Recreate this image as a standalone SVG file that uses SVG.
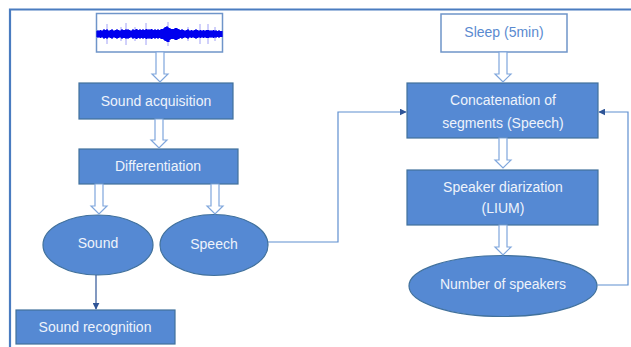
<svg xmlns="http://www.w3.org/2000/svg" width="631" height="347" viewBox="0 0 631 347">
<defs>
<style>
.box{fill:#5589d3;stroke:#41719c;stroke-width:1.2}
.wbox{fill:#ffffff;stroke:#6f95c9;stroke-width:1.5}
.t{font-family:"Liberation Sans",Arial,sans-serif;font-size:14px;fill:#eef3fb;text-anchor:middle}
.tb{font-family:"Liberation Sans",Arial,sans-serif;font-size:14px;fill:#5a8ad0;text-anchor:middle}
.hol{fill:#ffffff;stroke:#7fa6dc;stroke-width:1.2}
.con{fill:none;stroke:#5f8fd0;stroke-width:1.2}
</style>
<marker id="ah" viewBox="0 0 10 10" refX="9" refY="5" markerWidth="7" markerHeight="7" orient="auto" markerUnits="userSpaceOnUse">
<path d="M0,0 L10,5 L0,10 z" fill="#2f5597"/>
</marker>
</defs>
<rect width="631" height="347" fill="#ffffff"/>
<path d="M10,347 V9.5 H631" fill="none" stroke="#4a7cc0" stroke-width="2.2"/>

<g id="waveform">
<rect class="wbox" x="96.5" y="13.5" width="126" height="38.5"/>
<path fill="none" stroke="#8a8cf5" stroke-width="0.8" d="M107 24v20M126 23v22M146 23v22M168 22v24M200 24v20M208 24v20M121 27v14M188 27v14M215 27v14M135 27v14"/>
<path fill="none" stroke="#0000ee" stroke-width="1.2" d="M97 31v6M98 30v8M99 31v6M100 30v8M101 30v8M102 31v6M103 30v8M104 29v10M105 30v8M106 30v8M107 29v10M108 30v8M109 31v6M110 30v8M111 30v8M112 29v10M113 30v8M114 31v6M115 30v8M116 30v8M117 29v10M118 30v8M119 30v8M120 31v6M121 30v8M122 29v10M123 30v8M124 30v8M125 30v8M126 29v10M127 30v8M128 29v10M129 30v8M130 30v8M131 31v6M132 30v8M133 29v10M134 30v8M135 30v8M136 29v10M137 29v10M138 30v8M139 30v8M140 29v10M141 30v8M142 30v8M143 29v10M144 30v8M145 30v8M146 29v10M147 29v10M148 30v8M149 29v10M150 30v8M151 29v10M152 29v10M153 30v8M154 30v8M155 29v10M156 30v8M157 30v8M158 29v10M159 30v8M160 30v8M161 29v10M162 29v10M163 29v10M164 28v12M165 27v14M166 27v14M167 26v16M168 27v15M169 28v14M170 28v12M171 29v10M172 29v10M173 29v10M174 29v10M175 28v12M176 28v12M177 28v12M178 29v10M179 29v10M180 30v8M181 30v8M182 29v10M183 30v8M184 30v8M185 31v6M186 30v8M187 30v8M188 29v10M189 30v8M190 31v6M191 30v8M192 30v8M193 31v6M194 30v8M195 30v8M196 29v10M197 30v8M198 30v8M199 31v6M200 30v8M201 30v8M202 31v6M203 30v8M204 30v8M205 31v6M206 30v8M207 30v8M208 30v8M209 30v8M210 31v6M211 30v8M212 31v6M213 30v8M214 30v8M215 31v6M216 30v8M217 31v6M218 31v6M219 30v8M220 31v6M221 31v6M222 31v6"/>
</g>

<g id="sound-acquisition">
<rect class="box" x="79" y="83" width="154" height="36"/>
<text class="t" x="156" y="106">Sound acquisition</text>
</g>
<g id="differentiation">
<rect class="box" x="79" y="149" width="159" height="35"/>
<text class="t" x="158" y="171">Differentiation</text>
</g>
<g id="sound">
<ellipse class="box" cx="98" cy="245" rx="55" ry="30"/>
<text class="t" x="98" y="248">Sound</text>
</g>
<g id="speech">
<ellipse class="box" cx="214" cy="245" rx="54" ry="30.5"/>
<text class="t" x="214" y="249">Speech</text>
</g>
<g id="sound-recognition">
<rect class="box" x="16" y="310" width="159" height="34"/>
<text class="t" x="95" y="332">Sound recognition</text>
</g>
<g id="sleep">
<rect class="wbox" x="441" y="14" width="126" height="38"/>
<text class="tb" x="504" y="37">Sleep (5min)</text>
</g>
<g id="concatenation">
<rect class="box" x="407" y="83" width="191" height="55"/>
<text class="t" x="503" y="105">Concatenation of</text>
<text class="t" x="503" y="128">segments (Speech)</text>
</g>
<g id="speaker-diarization">
<rect class="box" x="407" y="170" width="191" height="55"/>
<text class="t" x="503" y="192">Speaker diarization</text>
<text class="t" x="503" y="213">(LIUM)</text>
</g>
<g id="number-of-speakers">
<ellipse class="box" cx="503" cy="286" rx="94" ry="30.5"/>
<text class="t" x="503" y="289">Number of speakers</text>
</g>

<g id="connectors">
<polygon class="hol" points="156,52 164,52 164,74 168,74 160,82 152,74 156,74"/>
<polygon class="hol" points="155,119 163,119 163,140 167,140 159,148 151,140 155,140"/>
<polygon class="hol" points="95,184 103,184 103,206 107,206 99,214 91,206 95,206"/>
<polygon class="hol" points="211,184 219,184 219,206 223,206 215,214 207,206 211,206"/>
<polygon class="hol" points="499,52 507,52 507,74 511,74 503,82 495,74 499,74"/>
<polygon class="hol" points="499,138 507,138 507,160 511,160 503,168 495,160 499,160"/>
<polygon class="hol" points="499,225 507,225 507,247 511,247 503,255 495,247 499,247"/>
<path class="con" d="M268,242 H338 V112 H406" marker-end="url(#ah)"/>
<path class="con" d="M597,285 H628 V112 H599" marker-end="url(#ah)"/>
<path d="M96,275 V309" fill="none" stroke="#2f5597" stroke-width="1.2" marker-end="url(#ah)"/>
</g>
</svg>
